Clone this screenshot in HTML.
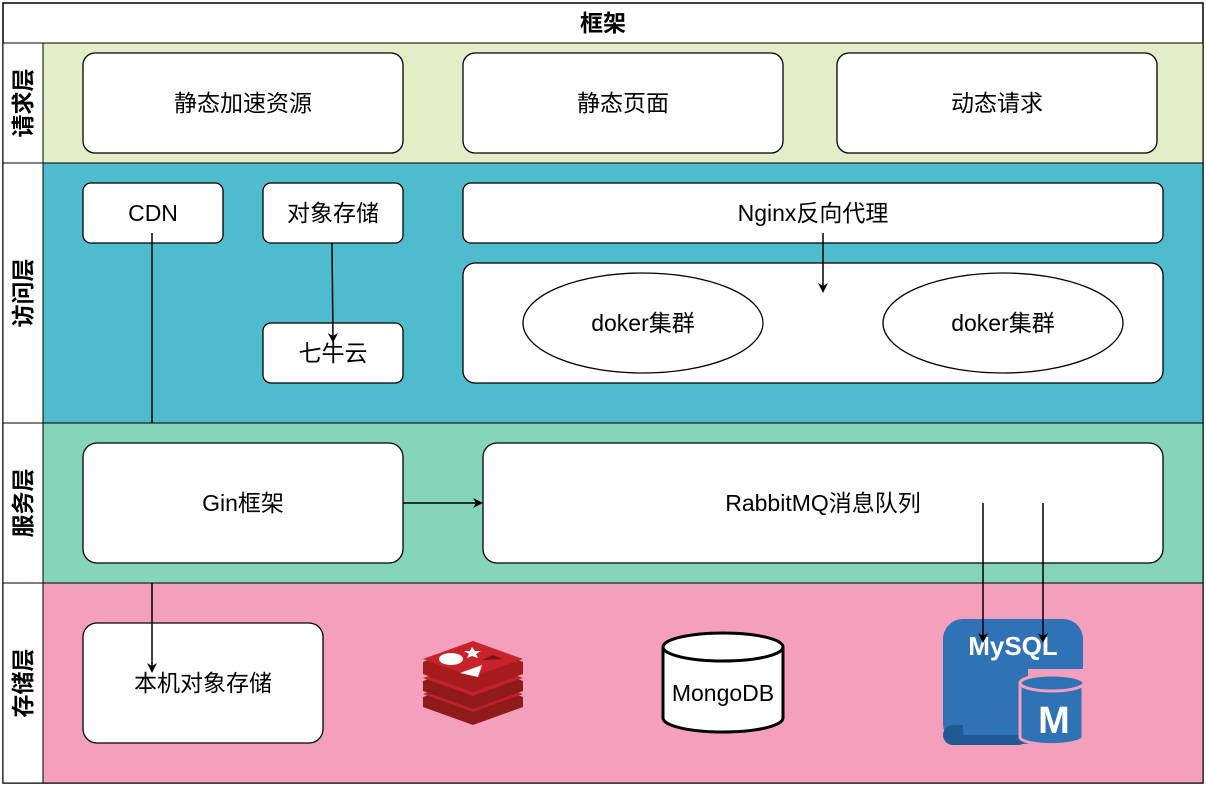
<!DOCTYPE html>
<html><head><meta charset="utf-8"><style>
body{margin:0;background:#fff}
text{font-family:"Liberation Sans","Noto Sans CJK SC",sans-serif;font-size:23px;fill:#000}
</style></head><body>
<svg width="1206" height="788" xmlns="http://www.w3.org/2000/svg">
<defs><marker id="a" markerWidth="10" markerHeight="10" refX="8" refY="5" orient="auto" markerUnits="userSpaceOnUse"><path d="M0,0 L10,5 L0,10 L3,5 z" fill="#000"/></marker></defs>
<rect x="3" y="3" width="1200" height="780" fill="#fff" stroke="#000" stroke-width="1.5"/>
<text x="603" y="31" text-anchor="middle" style="font-weight:bold">框架</text>
<rect x="43" y="43" width="1160" height="120" fill="#E1EEC8" stroke="#000"/>
<rect x="43" y="163" width="1160" height="260" fill="#4EBCCD" stroke="#000"/>
<rect x="43" y="423" width="1160" height="160" fill="#85D5BA" stroke="#000"/>
<rect x="43" y="583" width="1160" height="200" fill="#F49FBB" stroke="#000"/>
<rect x="3" y="43" width="40" height="740" fill="#fff" stroke="#000"/>
<line x1="3" y1="163" x2="43" y2="163" stroke="#000"/><line x1="3" y1="423" x2="43" y2="423" stroke="#000"/><line x1="3" y1="583" x2="43" y2="583" stroke="#000"/>
<text transform="translate(31,103) rotate(-90)" text-anchor="middle" style="font-weight:bold">请求层</text>
<text transform="translate(31,293) rotate(-90)" text-anchor="middle" style="font-weight:bold">访问层</text>
<text transform="translate(31,503) rotate(-90)" text-anchor="middle" style="font-weight:bold">服务层</text>
<text transform="translate(31,683) rotate(-90)" text-anchor="middle" style="font-weight:bold">存储层</text>
<g fill="#fff" stroke="#000" stroke-width="1.3">
<rect x="83" y="53" width="320" height="100" rx="12"/>
<rect x="463" y="53" width="320" height="100" rx="12"/>
<rect x="837" y="53" width="320" height="100" rx="12"/>
<rect x="83" y="183" width="140" height="60" rx="8"/>
<rect x="263" y="183" width="140" height="60" rx="8"/>
<rect x="263" y="323" width="140" height="60" rx="8"/>
<rect x="463" y="183" width="700" height="60" rx="8"/>
<rect x="463" y="263" width="700" height="120" rx="12"/>
<ellipse cx="643" cy="323" rx="120" ry="50"/>
<ellipse cx="1003" cy="323" rx="120" ry="50"/>
<rect x="83" y="443" width="320" height="120" rx="14"/>
<rect x="483" y="443" width="680" height="120" rx="14"/>
<rect x="83" y="623" width="240" height="120" rx="14"/>
</g>
<g text-anchor="middle">
<text x="243" y="111">静态加速资源</text><text x="623" y="111">静态页面</text><text x="997" y="111">动态请求</text>
<text x="153" y="221">CDN</text><text x="333" y="221">对象存储</text><text x="333" y="361">七牛云</text>
<text x="813" y="221">Nginx反向代理</text>
<text x="643" y="331">doker集群</text><text x="1003" y="331">doker集群</text>
<text x="243" y="511">Gin框架</text><text x="823" y="511">RabbitMQ消息队列</text>
<text x="203" y="691">本机对象存储</text>
</g>
<g stroke="#000" stroke-width="1.5" fill="none">
<line x1="152" y1="233" x2="152" y2="423"/>
<line x1="332" y1="243" x2="333" y2="341" marker-end="url(#a)"/>
<line x1="823" y1="233" x2="823" y2="291" marker-end="url(#a)"/>
<line x1="403" y1="503" x2="481" y2="503" marker-end="url(#a)"/>
<line x1="152" y1="583" x2="152" y2="671" marker-end="url(#a)"/>
</g>
<path d="M663,647 v71 a60,14 0 0 0 120,0 v-71" fill="#fff" stroke="#000" stroke-width="3"/>
<ellipse cx="723" cy="647" rx="60" ry="14" fill="#fff" stroke="#000" stroke-width="3"/>
<text x="723" y="701" text-anchor="middle">MongoDB</text>
<g>
<path d="M423,697 l50,-18 l50,18 v10 l-50,18 l-50,-18z" fill="#8E1A1A"/>
<path d="M423,694 l50,-18 l50,18 l-50,18z" fill="#C1212A"/>
<path d="M423,681 l50,-18 l50,18 v10 l-50,18 l-50,-18z" fill="#8E1A1A"/>
<path d="M423,678 l50,-18 l50,18 l-50,18z" fill="#C1212A"/>
<path d="M423,662 l50,-18 l50,18 v12 l-50,18 l-50,-18z" fill="#A61B1E"/>
<path d="M423,659 l50,-18 l50,18 l-50,18z" fill="#C8232B"/>
<ellipse cx="451" cy="659" rx="12" ry="6" fill="#fff"/>
<path d="M472,647 l3,4 l6,0 l-5,3 l2,4 l-6,-2 l-5,2 l2,-4 l-5,-3 l6,0z" fill="#fff"/>
<path d="M460,673 l22,-8 l-4,12z" fill="#fff"/>
<path d="M482,660 l11,-5 l10,4 z" fill="#7A1212"/>
</g>
<path d="M963,619 h100 a20,20 0 0 1 20,20 v30 h-55 v75 h-65 a20,20 0 0 1 -20,-20 v-85 a20,20 0 0 1 20,-20z" fill="#2F72B6"/>
<rect x="943" y="725" width="85" height="20" fill="#1F5A92" rx="10"/>
<rect x="963" y="725" width="65" height="10" fill="#2F72B6"/>
<text x="1013" y="655" text-anchor="middle" style="font-size:26px;font-weight:bold;fill:#fff">MySQL</text>
<path d="M1020,683 v55 a32,8 0 0 0 63,0 v-55" fill="#2F72B6" stroke="#F49FBB" stroke-width="3"/>
<ellipse cx="1052" cy="683" rx="32" ry="8" fill="#2F72B6" stroke="#F49FBB" stroke-width="3"/>
<text x="1054" y="733" text-anchor="middle" style="font-size:38px;font-weight:bold;fill:#fff">M</text>
<g stroke="#000" stroke-width="1.5">
<line x1="983" y1="503" x2="983" y2="641" marker-end="url(#a)"/>
<line x1="1043" y1="503" x2="1043" y2="641" marker-end="url(#a)"/>
</g>
</svg>
</body></html>
